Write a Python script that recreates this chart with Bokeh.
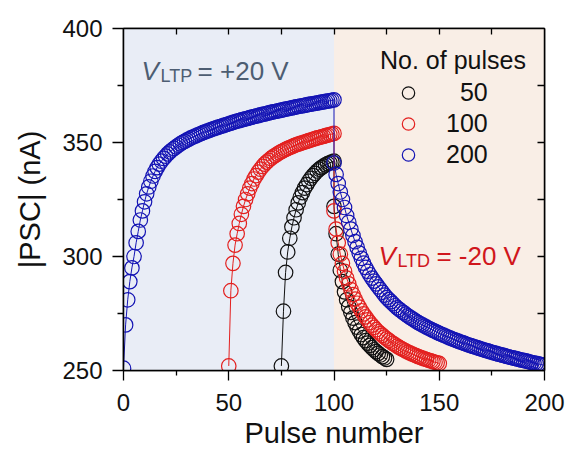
from bokeh.plotting import figure
from bokeh.models import (BoxAnnotation, Label, Legend, LegendItem, LinearAxis,
                          FixedTicker, Range1d)
from bokeh.embed import file_html
from bokeh.resources import INLINE

# ---------------- data ----------------
x_limits = [0, 200]
y_limits = [250, 400]
switch_pulse = 100          # potentiation -> depression boundary
x_ticks = [0, 50, 100, 150, 200]
x_minor = [25, 75, 125, 175]
y_ticks = [250, 300, 350, 400]
y_minor = [275, 325, 375]
frame_ticks_x = [25, 50, 75, 100, 125, 150, 175]
frame_ticks_y = [275, 300, 325, 350, 375]

series_names = ["50", "100", "200"]

# 50 pulses (black)
ltp50_x = list(range(75, 101))
ltp50_y = [252, 276, 293, 302, 308, 313, 317, 320.5, 323.5, 326, 328, 330, 331.5,
           333, 334.3, 335.5, 336.5, 337.5, 338.3, 339, 339.6, 340.2, 340.7, 341.1,
           341.5, 341.8]
ltd50_x = list(range(100, 126))
ltd50_y = [322, 310, 301, 294, 289, 284.5, 281, 278, 275.5, 273, 271, 269, 267.3,
           265.8, 264.4, 263.1, 262, 261, 260, 259.1, 258.3, 257.5, 256.8, 256.1,
           255.5, 254.9]

# 100 pulses (red)
ltp100_x = list(range(50, 101))
ltp100_y = [252, 285, 297, 305, 310, 314.5, 318.5, 322, 325, 327.5, 330, 332, 334,
            335.5, 337, 338.3, 339.5, 340.5, 341.4, 342.2, 343, 343.7, 344.3, 344.9,
            345.5, 346, 346.5, 347, 347.4, 347.8, 348.2, 348.6, 349, 349.3, 349.6,
            349.9, 350.2, 350.5, 350.8, 351.1, 351.4, 351.7, 352, 352.2, 352.5, 352.7,
            353, 353.2, 353.5, 353.7, 354]
ltd100_x = list(range(100, 151))
ltd100_y = [320, 312, 306, 301, 297, 293.5, 290.5, 288, 285.5, 283.3, 281.3, 279.5,
            277.8, 276.2, 274.8, 273.5, 272.2, 271, 269.9, 268.9, 267.9, 267, 266.2,
            265.4, 264.6, 263.9, 263.2, 262.5, 261.9, 261.3, 260.7, 260.1, 259.6,
            259.1, 258.6, 258.1, 257.7, 257.3, 256.9, 256.5, 256.1, 255.8, 255.4,
            255.1, 254.8, 254.5, 254.2, 253.9, 253.6, 253.4, 253.1]

# 200 pulses (blue)
ltp200_x = list(range(0, 101))
ltp200_y = [251, 270, 281, 289, 295, 300, 306, 311, 316, 320, 324, 327.5, 330.5, 333,
            335.3, 337.3, 339, 340.5, 341.8, 343, 344, 345, 345.9, 346.7, 347.4,
            348.1, 348.8, 349.4, 350, 350.5, 351, 351.5, 352, 352.4, 352.8, 353.2,
            353.6, 354, 354.4, 354.7, 355.1, 355.4, 355.8, 356.1, 356.4, 356.7, 357,
            357.3, 357.6, 357.9, 358.2, 358.5, 358.8, 359.1, 359.4, 359.6, 359.9,
            360.1, 360.4, 360.6, 360.9, 361.1, 361.4, 361.6, 361.8, 362.1, 362.3,
            362.5, 362.7, 363, 363.2, 363.4, 363.6, 363.8, 364, 364.2, 364.4, 364.6,
            364.8, 365, 365.2, 365.4, 365.6, 365.8, 366, 366.1, 366.3, 366.5, 366.7,
            366.8, 367, 367.2, 367.3, 367.5, 367.7, 367.8, 368, 368.2, 368.3, 368.5,
            368.7]
ltd200_x = list(range(100, 201))
ltd200_y = [341, 336, 332, 328.3, 325, 321.5, 318, 315, 312, 309.2, 306.5, 304, 301.5,
            299.2, 297.1, 295.2, 293.5, 292, 290.5, 289.2, 288, 286.7, 285.5, 284.3,
            283.1, 282, 281.1, 280.2, 279.3, 278.4, 277.5, 276.8, 276.1, 275.4, 274.7,
            274, 273.4, 272.8, 272.2, 271.6, 271, 270.5, 270, 269.5, 269, 268.5, 268.1,
            267.6, 267.2, 266.7, 266.3, 265.9, 265.5, 265.1, 264.7, 264.3, 263.9,
            263.6, 263.2, 262.9, 262.5, 262.2, 261.9, 261.5, 261.2, 260.9, 260.6,
            260.3, 260, 259.7, 259.4, 259.1, 258.8, 258.6, 258.3, 258, 257.7, 257.5,
            257.2, 257, 256.7, 256.5, 256.2, 256, 255.7, 255.5, 255.3, 255.1, 254.8,
            254.6, 254.4, 254.2, 254, 253.7, 253.5, 253.3, 253.1, 252.9, 252.7, 252.5,
            252.3]

colors = ["#111111", "#e3201f", "#1414b4"]
FONT = "Liberation Sans"

# ---------------- figure ----------------
p = figure(frame_width=421, frame_height=342, output_backend="svg",
           toolbar_location=None,
           x_range=Range1d(*x_limits), y_range=Range1d(*y_limits),
           min_border_left=123, min_border_right=22, min_border_top=28,
           min_border_bottom=80)
p.grid.visible = False
p.outline_line_color = "black"
p.outline_line_width = 1.5
p.background_fill_color = "white"
p.border_fill_color = "white"

p.add_layout(BoxAnnotation(left=x_limits[0], right=switch_pulse, fill_color="#e9edf6",
                           fill_alpha=1, line_color=None, level="underlay"))
p.add_layout(BoxAnnotation(left=switch_pulse, right=x_limits[1], fill_color="#f9eee6",
                           fill_alpha=1, line_color=None, level="underlay"))

# axes
for ax, ticks, minor in ((p.xaxis[0], x_ticks, x_minor), (p.yaxis[0], y_ticks, y_minor)):
    ax.ticker = FixedTicker(ticks=ticks, minor_ticks=minor)
    ax.axis_line_color = "black"
    ax.axis_line_width = 1.5
    ax.major_tick_line_color = "black"
    ax.minor_tick_line_color = "black"
    ax.major_tick_line_width = 1.3
    ax.minor_tick_line_width = 1.3
    ax.major_tick_in = 0
    ax.major_tick_out = 10
    ax.minor_tick_in = 0
    ax.minor_tick_out = 5
    ax.major_label_text_font = FONT
    ax.major_label_text_font_size = "24px"
    ax.major_label_text_color = "#111111"
    ax.axis_label_text_font = FONT
    ax.axis_label_text_font_size = "29px"
    ax.axis_label_text_font_style = "normal"
    ax.axis_label_text_color = "#111111"

p.yaxis.major_tick_out = 11
p.yaxis.minor_tick_out = 6
p.xaxis.axis_label = "Pulse number"
p.yaxis.axis_label = "|PSC| (nA)"
p.xaxis.major_label_standoff = 13
p.yaxis.major_label_standoff = 10
p.xaxis.axis_label_standoff = 3
p.yaxis.axis_label_standoff = 13

top_axis = LinearAxis(ticker=FixedTicker(ticks=frame_ticks_x, minor_ticks=[]),
                      major_tick_in=6, major_tick_out=0, minor_tick_in=0,
                      minor_tick_out=0, major_label_text_color=None,
                      major_label_text_font_size="0px", axis_line_color="black",
                      axis_line_width=1.5, major_tick_line_width=1.3,
                      major_label_standoff=0)
right_axis = LinearAxis(ticker=FixedTicker(ticks=frame_ticks_y, minor_ticks=[]),
                        major_tick_in=7, major_tick_out=0, minor_tick_in=0,
                        minor_tick_out=0, major_label_text_color=None,
                        major_label_text_font_size="0px", axis_line_color="black",
                        axis_line_width=1.5, major_tick_line_width=1.3,
                        major_label_standoff=0)
p.add_layout(top_axis, "above")
p.add_layout(right_axis, "right")

# series
all_series = [
    (ltp50_x + ltd50_x, ltp50_y + ltd50_y),
    (ltp100_x + ltd100_x, ltp100_y + ltd100_y),
    (ltp200_x + ltd200_x, ltp200_y + ltd200_y),
]
legend_items = []
for name, (xs, ys), col in zip(series_names, all_series, colors):
    p.line(xs, ys, line_color=col, line_width=1)
    r = p.scatter(xs, ys, marker="circle", size=14.5, line_color=col, fill_alpha=0,
                  line_width=1.2)
    label = name if len(name) == 3 else "\u2007" + name
    legend_items.append(LegendItem(label=label, renderers=[r]))

legend = Legend(items=legend_items, title="No. of pulses", location=(257, 200),
                padding=0, margin=0, spacing=0, glyph_width=56, glyph_height=31,
                label_standoff=10, title_standoff=2,
                label_text_font=FONT, label_text_font_size="25px",
                label_text_color="#111111",
                title_text_font=FONT, title_text_font_size="25px",
                title_text_font_style="normal", title_text_color="#111111",
                background_fill_alpha=0, border_line_color=None)
p.add_layout(legend)

# annotations
ltp_color = "#4d5d72"
ltd_color = "#d0161c"
ltp_x, ltp_y = 8.6, 381.4
ltd_x, ltd_y = 121.1, 300.4
for (ax_, ay_, sub, rest, col, rest_dx) in (
        (ltp_x, ltp_y, "LTP", "= +20 V", ltp_color, 56),
        (ltd_x, ltd_y, "LTD", "= -20 V", ltd_color, 58)):
    p.add_layout(Label(x=ax_, y=ay_, text="V", text_font=FONT, text_font_size="26px",
                       text_font_style="italic", text_color=col,
                       text_baseline="alphabetic"))
    p.add_layout(Label(x=ax_, y=ay_, x_offset=19, y_offset=-5, text=sub,
                       text_font=FONT, text_font_size="18px", text_color=col,
                       text_baseline="alphabetic"))
    p.add_layout(Label(x=ax_, y=ay_, x_offset=rest_dx, text=rest, text_font=FONT,
                       text_font_size="26px", text_color=col,
                       text_baseline="alphabetic"))

open("out.html", "w").write(file_html(p, INLINE))
